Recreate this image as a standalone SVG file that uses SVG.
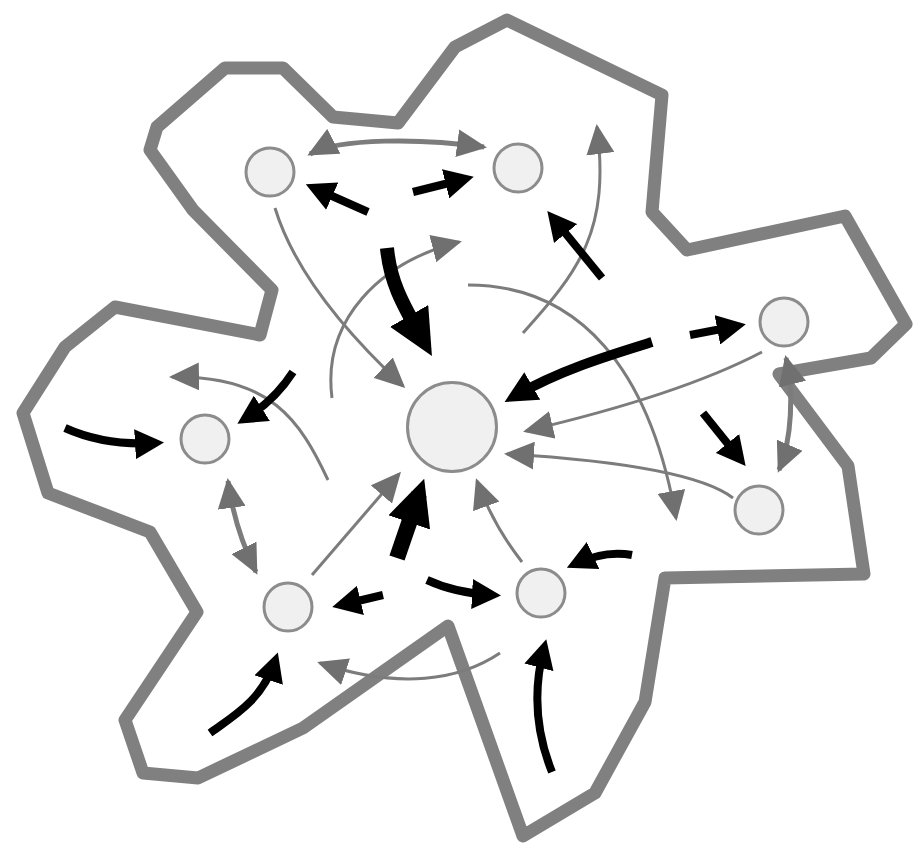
<svg xmlns="http://www.w3.org/2000/svg" width="916" height="847" viewBox="0 0 916 847">
<style>
.outline{fill:none;stroke:#808080;stroke-width:13;stroke-linejoin:round}
.g{fill:none;stroke:#7c7c7c;stroke-width:3}
.g2{fill:none;stroke:#7c7c7c;stroke-width:5}
.b{fill:none;stroke:#000;stroke-width:8}
.bm{fill:none;stroke:#000;stroke-width:10}
.bt{fill:none;stroke:#000;stroke-width:14}
.node{fill:#f0f0f0;stroke:#8c8c8c;stroke-width:3}
</style>
<defs>
<marker id="mg" markerUnits="userSpaceOnUse" markerWidth="30" markerHeight="28" refX="27" refY="14" orient="auto-start-reverse"><path d="M0,0 L30,14 L0,28 z" fill="#707070"/></marker>
<marker id="mb" markerUnits="userSpaceOnUse" markerWidth="29" markerHeight="30" refX="20" refY="15" orient="auto"><path d="M0,0 L29,15 L0,30 z" fill="#000"/></marker>
<marker id="mm" markerUnits="userSpaceOnUse" markerWidth="32" markerHeight="32" refX="20" refY="16" orient="auto"><path d="M0,0 L32,16 L0,32 z" fill="#000"/></marker>
<marker id="mt" markerUnits="userSpaceOnUse" markerWidth="46" markerHeight="44" refX="30" refY="22" orient="auto"><path d="M0,0 L46,22 L0,44 z" fill="#000"/></marker>
</defs>
<rect width="916" height="847" fill="#fff"/>
<g id="boundary">
<polygon class="outline" points="507,20 662,95 652,212 687,250 845,216 906,324 871,358 779,374 848,466 864,574 665,578 645,702 595,793 523,836 448,626 303,728 198,778 143,773 125,720 197,612 150,532 48,493 23,413 65,347 115,307 260,335 272,290 193,210 150,150 157,127 225,68 283,68 333,117 398,123 455,47"/>
</g>
<g id="connectors">
<path class="g2" d="M310,154 C340,138 420,138 484,147" marker-start="url(#mg)" marker-end="url(#mg)"/>
<path class="g" d="M275,208 Q300,290 403,386" marker-end="url(#mg)"/>
<path class="g" d="M332,398 C322,320 380,262 459,242" marker-end="url(#mg)"/>
<path class="g" d="M523,333 C580,270 610,230 597,127" marker-end="url(#mg)"/>
<path class="g" d="M468,285 C580,285 650,370 676,518" marker-end="url(#mg)"/>
<path class="g" d="M762,352 Q680,395 526,431" marker-end="url(#mg)"/>
<path class="g" d="M733,498 Q690,465 507,454" marker-end="url(#mg)"/>
<path class="g2" d="M786,358 C794,390 792,440 779,470" marker-start="url(#mg)" marker-end="url(#mg)"/>
<path class="g" d="M522,562 Q493,525 477,481" marker-end="url(#mg)"/>
<path class="g" d="M312,575 L399,474" marker-end="url(#mg)"/>
<path class="g" d="M328,480 C300,420 270,375 172,377" marker-end="url(#mg)"/>
<path class="g2" d="M228,481 C232,510 240,540 256,572" marker-start="url(#mg)" marker-end="url(#mg)"/>
<path class="g" d="M500,653 C460,680 400,690 320,663" marker-end="url(#mg)"/>
<path class="b" d="M368,212 L314,188" marker-end="url(#mb)"/>
<path class="b" d="M413,192 L465,179" marker-end="url(#mb)"/>
<path class="bt" d="M387,248 C390,280 400,300 424,342" marker-end="url(#mt)"/>
<path class="b" d="M602,278 L553,218" marker-end="url(#mb)"/>
<path class="b" d="M690,335 L737,326" marker-end="url(#mb)"/>
<path class="bm" d="M652,342 C610,355 560,370 515,396" marker-end="url(#mm)"/>
<path class="b" d="M703,413 L740,459" marker-end="url(#mb)"/>
<path class="b" d="M632,555 Q605,550 575,564" marker-end="url(#mb)"/>
<path class="b" d="M293,372 Q275,400 245,419" marker-end="url(#mb)"/>
<path class="b" d="M65,428 Q105,446 155,443" marker-end="url(#mb)"/>
<path class="bt" style="stroke-width:16" d="M397,558 L419,494" marker-end="url(#mt)"/>
<path class="b" d="M383,595 L341,605" marker-end="url(#mb)"/>
<path class="b" d="M427,580 Q455,593 492,595" marker-end="url(#mb)"/>
<path class="b" d="M210,733 C235,715 262,700 275,661" marker-end="url(#mb)"/>
<path class="b" d="M552,772 C535,730 533,690 544,648" marker-end="url(#mb)"/>
</g>
<g id="n1"><circle class="node" cx="270" cy="172" r="24"/></g>
<g id="n2"><circle class="node" cx="518" cy="168" r="24"/></g>
<g id="n3"><circle class="node" cx="784" cy="322" r="24"/></g>
<g id="center"><circle class="node" cx="452" cy="427" r="44.5"/></g>
<g id="n5"><circle class="node" cx="759" cy="510" r="24"/></g>
<g id="n6"><circle class="node" cx="205" cy="439" r="24"/></g>
<g id="n7"><circle class="node" cx="288" cy="607" r="24"/></g>
<g id="n8"><circle class="node" cx="541" cy="593" r="24"/></g>
</svg>
